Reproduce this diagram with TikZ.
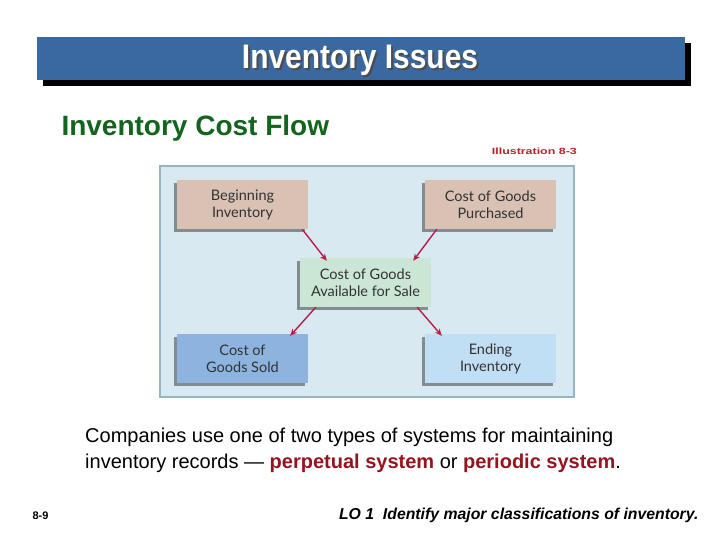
\documentclass[tikz,border=0pt]{standalone}
\usepackage{fontspec}
\usepackage{graphicx}
\setmainfont{Liberation Sans}
\newfontfamily\boxfont{Lato}
\usetikzlibrary{arrows.meta}
\definecolor{titleblue}{RGB}{58,104,160}
\definecolor{costgreen}{RGB}{20,100,30}
\definecolor{illred}{RGB}{190,30,40}
\definecolor{panelbg}{RGB}{216,233,241}
\definecolor{panelborder}{RGB}{150,180,195}
\definecolor{tan}{RGB}{217,193,180}
\definecolor{mint}{RGB}{203,230,212}
\definecolor{soldblue}{RGB}{140,180,222}
\definecolor{endblue}{RGB}{192,222,244}
\definecolor{arrowred}{RGB}{185,30,75}
\definecolor{darkred}{RGB}{150,20,30}
\definecolor{shadowgray}{RGB}{130,140,145}
\newcommand{\titletext}{\scalebox{0.88}[1]{\fontsize{34}{38}\selectfont\bfseries Inventory Issues}}
\tikzset{
  flowbox/.style={minimum width=131pt, minimum height=49pt, inner sep=0pt, align=center,
    font=\boxfont\fontsize{14.5}{17}\selectfont, text=black!80},
  flowarrow/.style={draw=arrowred, line width=1.4pt, -{Stealth[length=7pt,width=6pt]}},
}
\begin{document}
\begin{tikzpicture}[x=1pt,y=-1pt]
\useasboundingbox[fill=white] (0,0) rectangle (720,539);
% title bar
\fill[black] (43,43) rectangle (691,86);
\fill[titleblue] (37,37) rectangle (685,80);
\node[text=white, inner sep=0pt] (title) at (360,61)
  {\rlap{\hspace{2pt}\raisebox{-2pt}{\color{black!70}\titletext}}\titletext};
% subtitle
\node[anchor=west, text=costgreen, font=\fontsize{28}{32}\selectfont\bfseries] (sub) at (58,128) {Inventory Cost Flow};
\node[anchor=east, text=illred, inner sep=0pt] (ill) at (577,151)
  {\scalebox{1.38}[1]{\fontsize{9}{11}\selectfont\bfseries Illustration 8-3}};
% panel
\draw[panelborder, fill=panelbg, line width=1.2pt] (160,166) rectangle (574,397);
% shadows
\foreach \x/\y in {177/180,425/180,300/258,177/334,425/334}{
  \fill[shadowgray] (\x-3,\y+3) rectangle (\x+128,\y+52);
}
\node[flowbox, fill=tan] (beg) at (242.5,204.5) {Beginning\\Inventory};
\node[flowbox, fill=tan] (pur) at (490.5,204.5) {Cost of Goods\\Purchased};
\node[flowbox, fill=mint] (avail) at (365.5,282.5) {Cost of Goods\\Available for Sale};
\node[flowbox, fill=soldblue] (sold) at (242.5,358.5) {Cost of\\Goods Sold};
\node[flowbox, fill=endblue] (end) at (490.5,358.5) {Ending\\Inventory};
% arrows
\draw[flowarrow] ([xshift=-6pt]beg.south east) -- ([xshift=27pt,yshift=-3pt]avail.north west);
\draw[flowarrow] ([xshift=12pt]pur.south west) -- ([xshift=-18pt,yshift=-3pt]avail.north east);
\draw[flowarrow] ([xshift=16pt]avail.south west) -- ([xshift=-18pt,yshift=-2pt]sold.north east);
\draw[flowarrow] ([xshift=-14pt]avail.south east) -- ([xshift=17pt,yshift=-2pt]end.north west);
% body text
\node[anchor=north west, align=left, font=\fontsize{20}{26}\selectfont, inner sep=0pt] (body) at (85,428)
  {Companies use one of two types of systems for maintaining\\
   inventory records --- {\color{darkred}\bfseries perpetual system} or {\color{darkred}\bfseries periodic system}.};
% footer
\node[anchor=west, font=\fontsize{11}{13}\selectfont\bfseries] (pg) at (29,516) {8-9};
\node[anchor=east, font=\fontsize{15.8}{18}\selectfont\bfseries\itshape] (lo) at (702,515) {LO 1\ \ Identify major classifications of inventory.};
\end{tikzpicture}
\end{document}
